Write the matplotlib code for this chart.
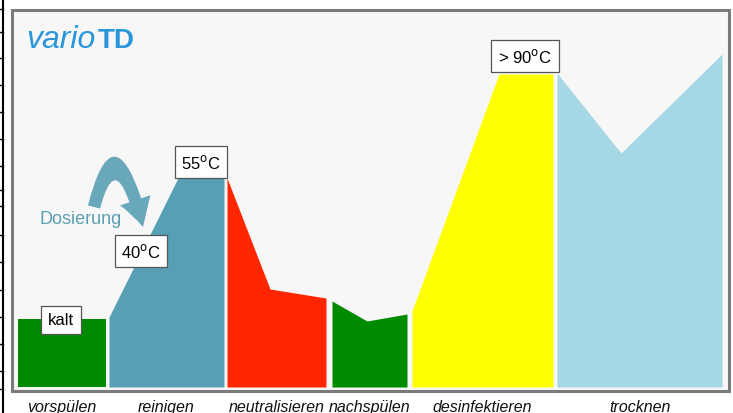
import matplotlib.pyplot as plt
from matplotlib.patches import FancyArrowPatch, Rectangle
from matplotlib.path import Path
from matplotlib.lines import Line2D

plt.rcParams['font.family'] = ['Liberation Sans', 'DejaVu Sans']

# phases of the program and their colours
phases = ['vorspülen', 'reinigen', 'neutralisieren', 'nachspülen', 'desinfektieren', 'trocknen']
colors = ['#008a00', '#569fb5', '#ff2600', '#008a00', '#ffff00', '#a5d7e4']

# temperature profile of each phase (time, level)
vorspuelen_t = [0, 88]
vorspuelen_y = [68, 68]
reinigen_t = [91, 160, 206]
reinigen_y = [70, 209, 209]
neutral_t = [209, 252, 308]
neutral_y = [209, 98, 89]
nachspuelen_t = [314, 349, 389]
nachspuelen_y = [86, 66, 73]
desinf_t = [394, 481, 535]
desinf_y = [76, 313, 313]
trocknen_t = [539, 603, 704]
trocknen_y = [314, 234, 333]

profiles_t = [vorspuelen_t, reinigen_t, neutral_t, nachspuelen_t, desinf_t, trocknen_t]
profiles_y = [vorspuelen_y, reinigen_y, neutral_y, nachspuelen_y, desinf_y, trocknen_y]

# temperature labels and where they sit
temp_labels = ['kalt', '40$^{\\mathrm{o}}$C', '55$^{\\mathrm{o}}$C', '> 90$^{\\mathrm{o}}$C']
temp_pos = [(43, 67), (123, 136), (183, 225), (507, 331)]

fig = plt.figure(figsize=(7.33, 4.14), dpi=100)
ax = fig.add_axes([0, 0, 1, 1])
ax.set_xlim(-18, 715)
ax.set_ylim(-26, 388)
ax.axis('off')

# frame
ax.add_patch(Rectangle((-6, -4), 717, 381, facecolor='#f7f7f7', edgecolor='#7b7b7b',
                       lw=2.2, zorder=0))

for t, y, c in zip(profiles_t, profiles_y, colors):
    ax.fill_between(t, 0, y, color=c, lw=0, zorder=2)

for t, name in zip(profiles_t, phases):
    ax.text((t[0] + t[-1]) / 2, -20, name, ha='center', va='center',
            style='italic', fontsize=11.5, color='#111111')

for txt, (x, y) in zip(temp_labels, temp_pos):
    ax.text(x, y, txt, ha='center', va='center', fontsize=12, zorder=5,
            bbox=dict(boxstyle='square,pad=0.4', facecolor='white',
                      edgecolor='#555555', lw=0.9))

# title, "TD" on the same baseline right after "vario"
t1 = ax.text(8, 340, 'vario', style='italic', fontsize=23, color='#2896d8', va='baseline')
renderer = fig.canvas.get_renderer()
bb = t1.get_window_extent(renderer)
x_end = ax.transData.inverted().transform((bb.x1, bb.y0))[0]
ax.text(x_end + 3, 340, 'TD', fontsize=20, fontweight='bold', color='#2896d8', va='baseline')

# Dosierung arrow
ax.text(63, 168, 'Dosierung', ha='center', va='center', fontsize=13, color='#5b9fb3')
arrow_path = Path([(76, 180), (98, 266), (125, 160)],
                  [Path.MOVETO, Path.CURVE3, Path.CURVE3])
ax.add_patch(FancyArrowPatch(path=arrow_path,
                             arrowstyle='simple,head_length=2.0,head_width=2.3,tail_width=0.9',
                             mutation_scale=10, color='#5a9fb4', alpha=0.9, lw=0, zorder=3))

# table border on the left edge
fig.add_artist(Line2D([3 / 733, 3 / 733], [0, 1], color='black', lw=1.5))
for py in [10, 33, 59, 86, 113, 140, 167, 191, 207, 236, 263, 291, 318, 345, 372, 390]:
    fig.add_artist(Line2D([0, 3 / 733], [1 - py / 414, 1 - py / 414], color='black', lw=1))

fig.savefig('out.png', dpi=100)
